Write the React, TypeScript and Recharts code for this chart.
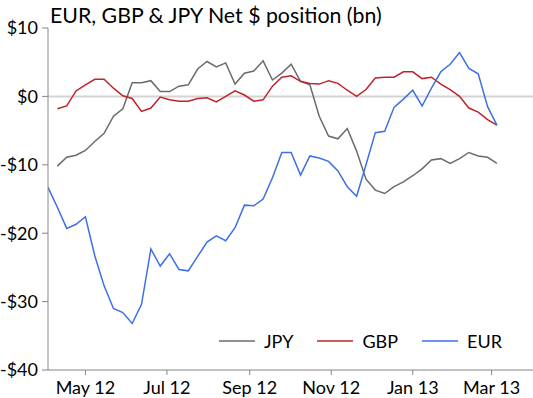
import React from "react";
import {
  LineChart,
  Line,
  XAxis,
  YAxis,
  ReferenceLine,
  Legend,
} from "recharts";

// weekly positioning data, Apr 2012 - Mar 2013
const dates = [
  "2012-04-03", "2012-04-10", "2012-04-17", "2012-04-24",
  "2012-05-01", "2012-05-08", "2012-05-15", "2012-05-22", "2012-05-29",
  "2012-06-05", "2012-06-12", "2012-06-19", "2012-06-26",
  "2012-07-03", "2012-07-10", "2012-07-17", "2012-07-24", "2012-07-31",
  "2012-08-07", "2012-08-14", "2012-08-21", "2012-08-28",
  "2012-09-04", "2012-09-11", "2012-09-18", "2012-09-25",
  "2012-10-02", "2012-10-09", "2012-10-16", "2012-10-23", "2012-10-30",
  "2012-11-06", "2012-11-13", "2012-11-20", "2012-11-27",
  "2012-12-04", "2012-12-11", "2012-12-18", "2012-12-25",
  "2013-01-01", "2013-01-08", "2013-01-15", "2013-01-22", "2013-01-29",
  "2013-02-05", "2013-02-12", "2013-02-19", "2013-02-26",
  "2013-03-05",
];

const jpy = [
  null,
  -10.2, -8.9, -8.6, -7.9, -6.6, -5.4, -2.9, -1.8, 2.0, 2.0, 2.3, 0.7, 0.7,
  1.5, 1.7, 4.0, 5.1, 4.3, 4.9, 1.8, 3.4, 3.7, 5.2, 2.4, 3.4, 4.7,
  2.2, 1.7, -2.9, -5.8, -6.2, -4.7, -8.0, -12.1, -13.7, -14.2, -13.2,
  -12.5, -11.6, -10.6, -9.3, -9.1, -9.8, -9.1, -8.2, -8.7, -8.9, -9.8,
];

const gbp = [
  null,
  -1.8, -1.4, 0.8, 1.7, 2.5, 2.5, 1.2, 0.1, -0.3, -2.2, -1.7, -0.1, -0.5,
  -0.7, -0.7, -0.3, -0.2, -0.8, 0.0, 0.8, 0.2, -0.7, -0.5, 1.5,
  2.8, 3.0, 2.2, 1.9, 1.8, 2.3, 1.9, 0.9, 0.0, 1.0, 2.7, 2.8, 2.8,
  3.6, 3.6, 2.6, 2.8, 1.8, 1.0, 0.0, -1.7, -2.3, -3.4, -4.2,
];

const eur = [
  -13.3, -16.2, -19.3, -18.7, -17.6, -23.3, -27.7, -31.0, -31.6, -33.2,
  -30.4, -22.3, -24.8, -23.0, -25.3, -25.5, -23.4, -21.3, -20.4, -21.1,
  -19.2, -15.9, -16.0, -15.0, -11.9,
  -8.2, -8.2, -11.5, -8.7, -9.0, -9.5, -10.9, -13.2, -14.6, -10.0, -5.3,
  -5.1, -1.6, -0.4, 0.9, -1.4, 1.2, 3.6, 4.7, 6.4, 4.1, 3.3, -1.5, -4.2,
];

const xTickDates = ["2012-05-01", "2012-07-01", "2012-09-01", "2012-11-01", "2013-01-01", "2013-03-01"];
const yTicks = [-40, -30, -20, -10, 0, 10];
const monthNames = ["Jan", "Feb", "Mar", "Apr", "May", "Jun", "Jul", "Aug", "Sep", "Oct", "Nov", "Dec"];

const series = [
  { key: "jpy", name: "JPY", color: "#6b6b6b" },
  { key: "gbp", name: "GBP", color: "#c0232a" },
  { key: "eur", name: "EUR", color: "#3f6fe6" },
];

const toTime = (s: string) => new Date(s + "T00:00:00Z").getTime();

const data = dates.map((d, i) => ({
  t: toTime(d),
  jpy: jpy[i],
  gbp: gbp[i],
  eur: eur[i],
}));

const xDomain = [toTime("2012-04-03"), toTime("2013-04-01")];
const FONT = "Lato, 'Open Sans', sans-serif";

const fmtDate = (t: number) => {
  const d = new Date(t);
  return `${monthNames[d.getUTCMonth()]} ${String(d.getUTCFullYear()).slice(2)}`;
};
const fmtMoney = (v: number) => (v < 0 ? `-$${-v}` : `$${v}`);

function LegendRow() {
  return (
    <div style={{ display: "flex", alignItems: "center", fontFamily: FONT, fontSize: 18, lineHeight: "20px", color: "#000" }}>
      {series.map((s) => (
        <div key={s.key} style={{ display: "flex", alignItems: "center", marginRight: 24 }}>
          <svg width={36} height={4} style={{ marginRight: 9, display: "block" }}>
            <line x1={0} x2={36} y1={2} y2={2} stroke={s.color} strokeWidth={1.5} />
          </svg>
          <span>{s.name}</span>
        </div>
      ))}
    </div>
  );
}

export default function App() {
  return (
    <div style={{ position: "absolute", left: 0, top: 0, width: 533, height: 398, background: "#fff" }}>
      <div
        style={{
          position: "absolute",
          left: 50,
          top: 3,
          fontFamily: FONT,
          fontSize: 21.3,
          lineHeight: "24px",
          color: "#000",
          whiteSpace: "nowrap",
          zIndex: 2,
        }}
      >
        EUR, GBP &amp; JPY Net $ position (bn)
      </div>
      <LineChart
        width={533}
        height={398}
        data={data}
        margin={{ top: 28, right: 0, left: 0, bottom: 0 }}
      >
        <ReferenceLine y={0} stroke="#d4d4d4" strokeWidth={2} />
        <XAxis
          dataKey="t"
          type="number"
          domain={xDomain}
          ticks={xTickDates.map(toTime)}
          tickFormatter={fmtDate}
          allowDataOverflow
          height={28}
          stroke="#868686"
          tickSize={5}
          tickMargin={6}
          tick={{ fontSize: 18, fill: "#000", fontFamily: FONT }}
          interval={0}
        />
        <YAxis
          domain={[-40, 10]}
          ticks={yTicks}
          tickFormatter={fmtMoney}
          width={48}
          stroke="#868686"
          tickSize={6}
          tickMargin={4}
          tick={{ fontSize: 18, fill: "#000", fontFamily: FONT }}
          interval={0}
        />
        <Legend
          layout="horizontal"
          verticalAlign="middle"
          align="center"
          wrapperStyle={{ left: 219, top: 331, width: 312 }}
          content={() => <LegendRow />}
        />
        {series.map((s) => (
          <Line
            key={s.key}
            dataKey={s.key}
            name={s.name}
            stroke={s.color}
            strokeWidth={1.5}
            dot={false}
            activeDot={false}
            connectNulls={false}
            isAnimationActive={false}
          />
        ))}
      </LineChart>
    </div>
  );
}
